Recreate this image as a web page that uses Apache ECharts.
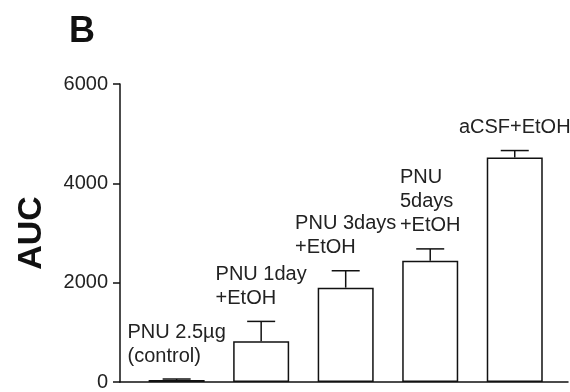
<!DOCTYPE html>
<html><head><meta charset="utf-8">
<script src="https://cdn.jsdelivr.net/npm/echarts@6/dist/echarts.min.js"></script>
<style>html,body{margin:0;padding:0;background:#fff}#c{width:570px;height:392px}</style>
</head><body><div id="c"></div>
<script>
// ---- data ----
const categories = ['PNU 2.5µg\n(control)', 'PNU 1day\n+EtOH', 'PNU 3days\n+EtOH', 'PNU\n5days\n+EtOH', 'aCSF+EtOH'];
const aucValues = [40, 820, 1900, 2440, 4520];
const aucErrors = [20, 400, 340, 240, 140];
const yTicks = [0, 2000, 4000, 6000];
const panelLetter = 'B';
const yTitle = 'AUC';

// ---- style ----
const FONT = '"Liberation Sans", Arial, sans-serif';
const LABEL_SIZE = 20;
const INK = '#111';

const measure = (function () {
  const ctx = document.createElement('canvas').getContext('2d');
  ctx.font = LABEL_SIZE + 'px ' + FONT;
  return function (txt) {
    return Math.max.apply(null, txt.split('\n').map(function (l) { return ctx.measureText(l).width; }));
  };
})();

const barData = aucValues.map(function (v, i) { return [i + 1, v]; });
const errData = aucValues.map(function (v, i) { return [i + 1, v, aucErrors[i]]; });

const chart = echarts.init(document.getElementById('c'), null, { renderer: 'canvas' });
chart.setOption({
  animation: false,
  backgroundColor: '#fff',
  title: {
    text: panelLetter, left: 64, top: 9,
    textStyle: { fontFamily: FONT, fontWeight: 'bold', fontSize: 36, color: INK }
  },
  grid: { left: 120, right: 2, top: 84, bottom: 9 },
  xAxis: {
    type: 'value', min: 0.33, max: 5.63,
    axisLine: { show: true, onZero: false, lineStyle: { color: INK, width: 1.5 } },
    axisTick: { show: false }, axisLabel: { show: false }, splitLine: { show: false }
  },
  yAxis: {
    type: 'value', min: yTicks[0], max: yTicks[yTicks.length - 1], interval: yTicks[1] - yTicks[0],
    name: yTitle, nameLocation: 'middle', nameGap: 71, nameRotate: 90,
    nameTextStyle: { fontFamily: FONT, fontWeight: 'bold', fontSize: 34, color: INK },
    axisLine: { show: true, lineStyle: { color: INK, width: 1.5 } },
    axisTick: { show: true, inside: false, length: 7, lineStyle: { color: INK, width: 1.5 } },
    axisLabel: { fontFamily: FONT, fontSize: 20, color: '#222', margin: 12, formatter: function (v) { return String(v); } },
    splitLine: { show: false }
  },
  series: [
    {
      type: 'bar', data: barData, barWidth: 56,
      itemStyle: { color: '#fff', borderColor: INK, borderWidth: 1.5 }
    },
    {
      type: 'custom', data: errData,
      renderItem: function (params, api) {
        const x = api.value(0), v = api.value(1), e = api.value(2);
        const base = api.coord([x, v]);
        const top = api.coord([x, v + e]);
        const capHalf = 14;
        const txt = categories[params.dataIndex];
        const w = measure(txt);
        return {
          type: 'group',
          children: [
            { type: 'line', shape: { x1: base[0], y1: base[1], x2: top[0], y2: top[1] }, style: { stroke: INK, lineWidth: 1.5 } },
            { type: 'line', shape: { x1: top[0] - capHalf, y1: top[1], x2: top[0] + capHalf, y2: top[1] }, style: { stroke: INK, lineWidth: 1.5 } },
            { type: 'text', x: top[0] - w / 2, y: top[1] - 11,
              style: { text: txt, fontFamily: FONT, fontSize: LABEL_SIZE, lineHeight: 24, fill: '#222', align: 'left', verticalAlign: 'bottom' } }
          ]
        };
      }
    }
  ]
});
</script></body></html>
